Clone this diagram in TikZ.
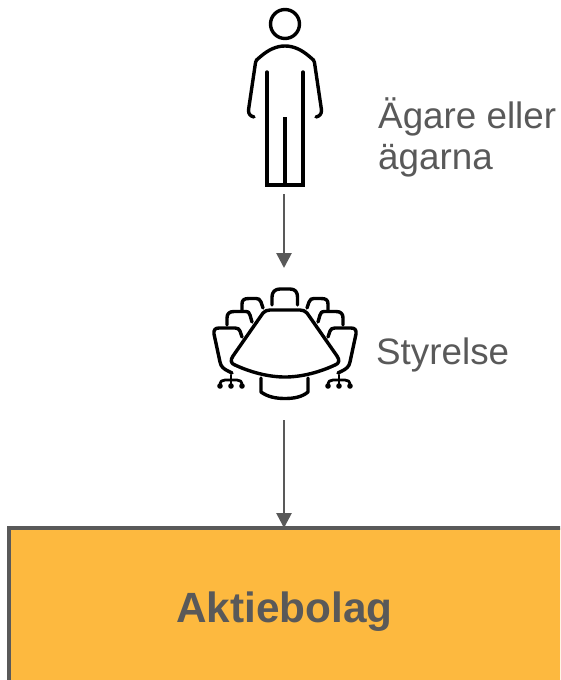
\documentclass[tikz,border=0pt]{standalone}
\usepackage{fontspec}
\setmainfont{Liberation Sans}
\usetikzlibrary{arrows.meta}
\definecolor{txtgray}{HTML}{595959}
\definecolor{boxfill}{HTML}{FDB93F}
\tikzset{
  icon/.style={draw=black,line width=3.4pt,line cap=round,line join=round},
  lbl/.style={text=txtgray,font=\fontsize{36.8}{36.8}\selectfont,anchor=base west,inner sep=0pt},
  anchorbox/.style={inner sep=0pt,outer sep=0pt,minimum width=#1},
  conn/.style={draw=txtgray,line width=2.7pt,-{Triangle[width=15pt,length=15pt]}}
}
\begin{document}
\begin{tikzpicture}[x=1pt,y=-1pt]
\useasboundingbox (0,0) rectangle (560,680);
\clip (0,0) rectangle (560,680);
% invisible frames of the icons, to connect to
\node[anchorbox=80pt,minimum height=185pt] (owner) at (284,101.5) {};
\node[anchorbox=150pt,minimum height=152pt] (board) at (284,344) {};
% company box
\node[draw=txtgray,fill=boxfill,line width=3.2pt,outer sep=0pt,inner sep=0pt,minimum width=600pt,minimum height=200pt] (company) at (309,628) {};
\node[text=txtgray,font=\bfseries\fontsize{42.3}{42.3}\selectfont,anchor=base,inner sep=0pt] (companylabel) at (284.5,622) {Aktiebolag};
% connectors
\draw[conn] (owner.south) -- (board.north);
\draw[conn] (board.south) -- (board.south |- company.north);
% labels
\node[lbl] (ownerlabel) at (378,128) {Ägare eller};
\node[lbl] (ownerlabeltwo) at (378,169) {ägarna};
\node[lbl] (boardlabel) at (376,364) {Styrelse};
% person
\draw[icon] (285,24) circle (14.5);
\draw[icon] (254,117) .. controls (250,116) and (248.5,114) .. (248.5,110)
  -- (255,66) .. controls (255.5,60) and (257,59) .. (260,57)
  .. controls (268,50) and (276,46) .. (285,46)
  .. controls (294,46) and (302,50) .. (310,57)
  .. controls (313,59) and (314.5,60) .. (315,66)
  -- (321.5,110) .. controls (321.5,114) and (320,116) .. (316,117);
\draw[icon,line join=miter] (267,72) -- (267,185) -- (303,185) -- (303,72);
\draw[icon,line cap=butt] (285,117) -- (285,185);
% table
\draw[icon] (270,310) -- (300,310) .. controls (303,310) and (305,311) .. (307,313)
  -- (337,356) .. controls (340,360) and (339,364) .. (335,365)
  .. controls (320,372) and (302,377) .. (285,377)
  .. controls (268,377) and (250,372) .. (235,365)
  .. controls (231,364) and (230,360) .. (233,356)
  -- (263,313) .. controls (265,311) and (267,310) .. (270,310) -- cycle;
% back chair
\draw[icon] (272,305) -- (272,297) .. controls (272,292) and (275,289) .. (280,289)
  -- (290,289) .. controls (295,289) and (297.5,292) .. (297.5,297) -- (297.5,305);
% bottom chair
\draw[icon] (261,378) -- (261,392) .. controls (268,397) and (276,398.5) .. (285,398.5)
  .. controls (294,398.5) and (302,397) .. (308,392) -- (308,378);
% side chairs, mirrored about x=285
\foreach \s in {1,-1}{
\begin{scope}[shift={(285,0)},x={(\s*1pt,0pt)}]
  \draw[icon] (-22,308) -- (-24,302) .. controls (-25,299) and (-27,298.5) .. (-29,298.5)
    -- (-36,298.5) .. controls (-41,298.5) and (-43,300) .. (-43,304) -- (-43,311);
  \draw[icon] (-33,322) -- (-35,315) .. controls (-36,312) and (-37,311.5) .. (-39,311.5)
    -- (-51,311.5) .. controls (-56,311.5) and (-58,314) .. (-58,318) -- (-58,325);
  \draw[icon] (-43,337) -- (-45,331) .. controls (-46,329) and (-47,328) .. (-50,328)
    -- (-66,328) .. controls (-70,328) and (-71.5,330) .. (-71,334)
    -- (-65,362) .. controls (-64,367) and (-61,369) .. (-57,371) -- (-53,373);
  \draw[icon,line width=2.8pt] (-54,375) -- (-54,386);
  \draw[icon,line width=2.8pt] (-65,386) .. controls (-65,381) and (-63,380) .. (-60,380)
    -- (-48,380) .. controls (-45,380) and (-43,381) .. (-43,386);
  \foreach \cx in {-65,-54,-43}{\fill (\cx,386) circle (2.8);}
\end{scope}}
\end{tikzpicture}
\end{document}
